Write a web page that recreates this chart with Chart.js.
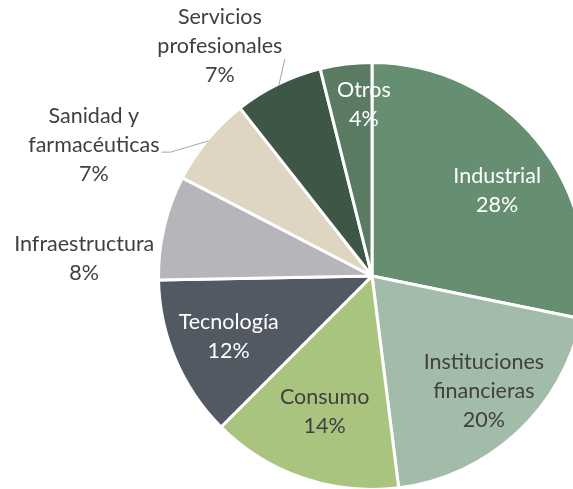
<!DOCTYPE html>
<html>
<head>
<meta charset="utf-8">
<script src="https://cdn.jsdelivr.net/npm/chart.js@4/dist/chart.umd.min.js"></script>
<style>
  html, body { margin: 0; padding: 0; background: #ffffff; overflow: hidden; width: 573px; height: 489px; }
  #wrap { position: absolute; left: 0; top: 0; width: 744px; height: 552px; }
</style>
</head>
<body>
<div id="wrap"><canvas id="c" width="744" height="552"></canvas></div>
<script>
// ---- data ----
const categories = ["Industrial", "Instituciones financieras", "Consumo", "Tecnología",
                    "Infraestructura", "Sanidad y farmacéuticas", "Servicios profesionales", "Otros"];
const values = [28.2, 19.8, 14.49, 12.2, 7.9, 6.8, 6.7, 3.9];
const percentLabels = ["28%", "20%", "14%", "12%", "8%", "7%", "7%", "4%"];
const labelLines = [["Industrial"], ["Instituciones", "financieras"], ["Consumo"], ["Tecnología"],
                    ["Infraestructura"], ["Sanidad y", "farmacéuticas"], ["Servicios", "profesionales"], ["Otros"]];

// ---- styles ----
const colors = ["#658F70", "#A3BBA9", "#A9C47F", "#525963", "#B5B5BA", "#DED5C3", "#3D5645", "#5A7A62"];
const textColors = ["#ffffff", "#404040", "#404040", "#ffffff", "#404040", "#404040", "#404040", "#ffffff"];
// label placement: angle offset (deg) from slice mid-angle, radius fraction
const labelPlace = [
  {da: 4.9, rf: 0.715}, {da: -1.3, rf: 0.758}, {da: 0.3, rf: 0.679}, {da: 0.3, rf: 0.733},
  {da: -9.7, rf: 1.36}, {da: -14.4, rf: 1.45}, {da: -7.4, rf: 1.30}, {da: 4.3, rf: 0.81}
];
const leaders = [null, null, null, null, null, "side", "below", null];
const FONT = '21.5px Lato';
const LINE_H = 29;

const labelPlugin = {
  id: 'pieLabels',
  afterDatasetsDraw(chart) {
    const ctx = chart.ctx;
    const meta = chart.getDatasetMeta(0);
    ctx.save();
    ctx.font = FONT;
    ctx.textAlign = 'center';
    ctx.textBaseline = 'middle';
    meta.data.forEach((arc, i) => {
      const p = arc.getProps(['x', 'y', 'startAngle', 'endAngle', 'outerRadius'], true);
      const R = p.outerRadius - 1.5;
      const mid = (p.startAngle + p.endAngle) / 2;
      const a = mid + labelPlace[i].da * Math.PI / 180;
      const r = R * labelPlace[i].rf;
      const cx = p.x + Math.cos(a) * r;
      const cy = p.y + Math.sin(a) * r;
      const lines = labelLines[i].concat([percentLabels[i]]);
      const top = cy - (lines.length - 1) * LINE_H / 2;
      ctx.fillStyle = textColors[i];
      lines.forEach((t, k) => ctx.fillText(t, cx, top + k * LINE_H));
      // leader lines
      if (leaders[i]) {
        const ex = p.x + Math.cos(mid) * R;
        const ey = p.y + Math.sin(mid) * R;
        ctx.strokeStyle = '#A6A6A6';
        ctx.lineWidth = 1;
        ctx.beginPath();
        if (leaders[i] === 'side') {
          const w = ctx.measureText(labelLines[i][1]).width;
          const ly = top + LINE_H + 7;
          const sx = cx + w / 2 + 2;
          ctx.moveTo(sx, ly);
          ctx.lineTo(sx + 9, ly);
          ctx.lineTo(ex, ey);
        } else {
          const sx = cx + 65;
          const sy = top + LINE_H + 13;
          ctx.moveTo(sx, sy);
          ctx.lineTo(ex, ey);
        }
        ctx.stroke();
      }
    });
    ctx.restore();
  }
};

new Chart(document.getElementById('c'), {
  type: 'pie',
  data: {
    labels: categories,
    datasets: [{
      data: values,
      backgroundColor: colors,
      borderColor: '#ffffff',
      borderWidth: 3
    }]
  },
  options: {
    responsive: false,
    devicePixelRatio: 1,
    animation: false,
    layout: { padding: { top: 61, bottom: 61, left: 0, right: 0 } },
    plugins: { legend: { display: false }, tooltip: { enabled: false } }
  },
  plugins: [labelPlugin]
});
</script>
</body>
</html>
